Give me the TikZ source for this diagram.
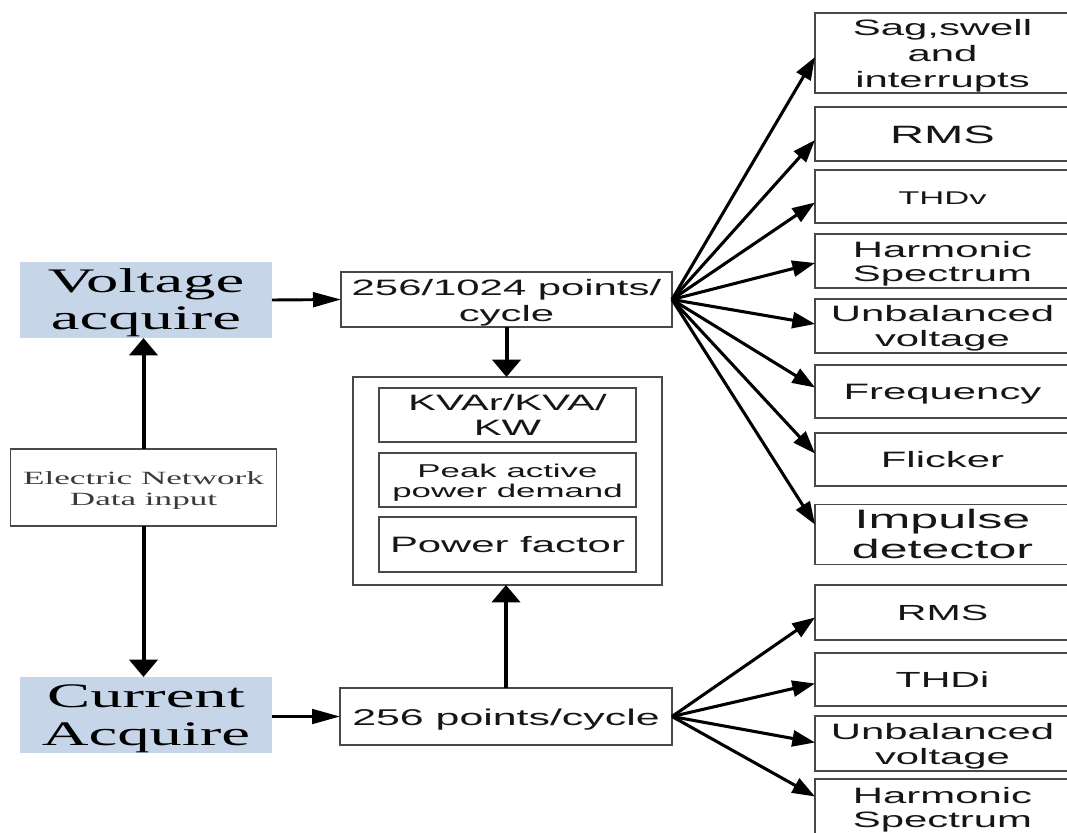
\documentclass[tikz,border=0pt]{standalone}
\usepackage{fontspec}
\setmainfont{Liberation Serif}
\newfontfamily\arialish{Liberation Sans}
\usetikzlibrary{arrows.meta,calc}
\definecolor{acqblue}{RGB}{198,214,232}
\definecolor{edge}{RGB}{72,72,72}
\definecolor{ink}{RGB}{22,22,22}
\definecolor{softink}{RGB}{58,58,58}
% wide lettering: every label is set horizontally stretched and sits a little low
\newcommand{\wtext}[1]{\raisebox{-2.6pt}[\height][\depth]{\scalebox{1.88}[1]{\begin{tabular}{@{}c@{}}#1\end{tabular}}}}
\newcommand{\fs}[2]{\fontsize{#1}{#2}\selectfont}

\begin{document}
\begin{tikzpicture}[x=0.75pt,y=-0.75pt,
  box/.style={draw=edge, line width=1.35pt, fill=white, inner sep=0pt, outer sep=0pt, text=ink},
  wh/.style n args={2}{minimum width=#1*0.75pt, minimum height=#2*0.75pt},
  acq/.style={fill=acqblue, inner sep=0pt, outer sep=0pt, text=black},
  sans/.style={font=\arialish\fs{16.7}{18.75}},
  link/.style={line width=2.3pt, -{Triangle[length=17pt,width=12pt]}},
  hlink/.style={line width=2.2pt, -{Triangle[length=21pt,width=11pt]}},
  vlink/.style={line width=3pt, -{Triangle[length=13pt,width=21pt]}},
]
\useasboundingbox (0,0) rectangle (1067,832);

% acquisition side
\node[acq, wh={252}{76}, font=\fs{25.8}{27.75}] (va) at (146,300) {\wtext{Voltage\\acquire}};
\node[box, wh={266}{77}, font=\fs{14}{15.75}, text=softink] (en) at (143.5,487.5) {\wtext{Electric Network\\Data input}};
\node[acq, wh={252}{74}, font=\fs{25.8}{28.5}] (ca) at (146,715) {\wtext{Current\\Acquire}};

% sampling and power block
\node[box, wh={331}{55}, font=\arialish\fs{16.7}{19.5}] (v256) at (506.5,299.5) {\wtext{256/1024 points/\\cycle}};
\node[box, wh={309}{208}] (pw) at (507.5,481) {};
\node[box, sans, wh={257}{54}] (kv) at (507.5,415) {\wtext{KVAr/KVA/\\KW}};
\node[box, wh={257}{54}, font=\arialish\fs{13.9}{15}] (pk) at (507.5,480) {\wtext{Peak active\\power demand}};
\node[box, sans, wh={257}{55}] (pf) at (507.5,544.5) {\wtext{Power factor}};
\node[box, wh={332}{57}, font=\arialish\fs{17.1}{19}] (c256) at (506,716.5) {\wtext{256 points/cycle}};

% voltage quantities
\node[box, wh={255}{80}, font=\arialish\fs{16.7}{19.5}] (r1) at (942.5,53) {\wtext{Sag,swell\\and\\interrupts}};
\node[box, wh={255}{54}, font=\arialish\fs{18.8}{21}] (r2) at (942.5,134) {\wtext{RMS}};
\node[box, wh={255}{53}, font=\arialish\fs{13.8}{16}] (r3) at (942.5,196.5) {\wtext{THDv}};
\node[box, wh={255}{54}, font=\arialish\fs{16.7}{18}] (r4) at (942.5,261) {\wtext{Harmonic\\Spectrum}};
\node[box, sans, wh={255}{54}] (r5) at (942.5,326) {\wtext{Unbalanced\\voltage}};
\node[box, sans, wh={255}{53}] (r6) at (942.5,391.5) {\wtext{Frequency}};
\node[box, sans, wh={255}{53}] (r7) at (942.5,459.5) {\wtext{Flicker}};
\node[box, wh={255}{55}, font=\arialish\fs{20}{22.5}] (r8) at (942.5,534.5) {\wtext{Impulse\\detector}};

% current quantities
\node[box, wh={255}{55}, font=\arialish\fs{16.4}{18.75}] (s1) at (942.5,612.5) {\wtext{RMS}};
\node[box, wh={255}{53}, font=\arialish\fs{16.4}{18.75}] (s2) at (942.5,679.5) {\wtext{THDi}};
\node[box, sans, wh={255}{55}] (s3) at (942.5,743.5) {\wtext{Unbalanced\\voltage}};
\node[box, wh={255}{57}, font=\arialish\fs{16.7}{18}] (s4) at (942.5,807.5) {\wtext{Harmonic\\Spectrum}};

% left column links
\draw[vlink] (en.north) -- (en.north |- va.south);
\draw[vlink] (en.south) -- (en.south |- ca.north);
\draw[hlink] (va.east) -- (v256.west);
\draw[hlink] (c256.west -| ca.east) -- (c256.west);

% into the power block
\draw[vlink] (v256.south) -- (v256.south |- pw.north);
\draw[vlink] (c256.north) -- (c256.north |- pw.south);

% voltage fan
\draw[link] (v256.east) -- ($(r1.west)+(0,4)$);
\draw[link] (v256.east) -- ($(r2.west)+(0,6)$);
\draw[link] (v256.east) -- ($(r3.west)+(0,6)$);
\draw[link] (v256.east) -- ($(r4.west)+(0,2)$);
\draw[link] (v256.east) -- ($(r5.west)+(0,-2)$);
\draw[link] (v256.east) -- ($(r6.west)+(0,-4)$);
\draw[link] (v256.east) -- ($(r7.west)+(0,-6)$);
\draw[link] (v256.east) -- ($(r8.west)+(0,-10)$);

% current fan
\draw[link] (c256.east) -- ($(s1.west)+(0,5)$);
\draw[link] (c256.east) -- ($(s2.west)+(0,4)$);
\draw[link] (c256.east) -- ($(s3.west)+(0,-1)$);
\draw[link] (c256.east) -- ($(s4.west)+(0,-11)$);
\end{tikzpicture}
\end{document}
